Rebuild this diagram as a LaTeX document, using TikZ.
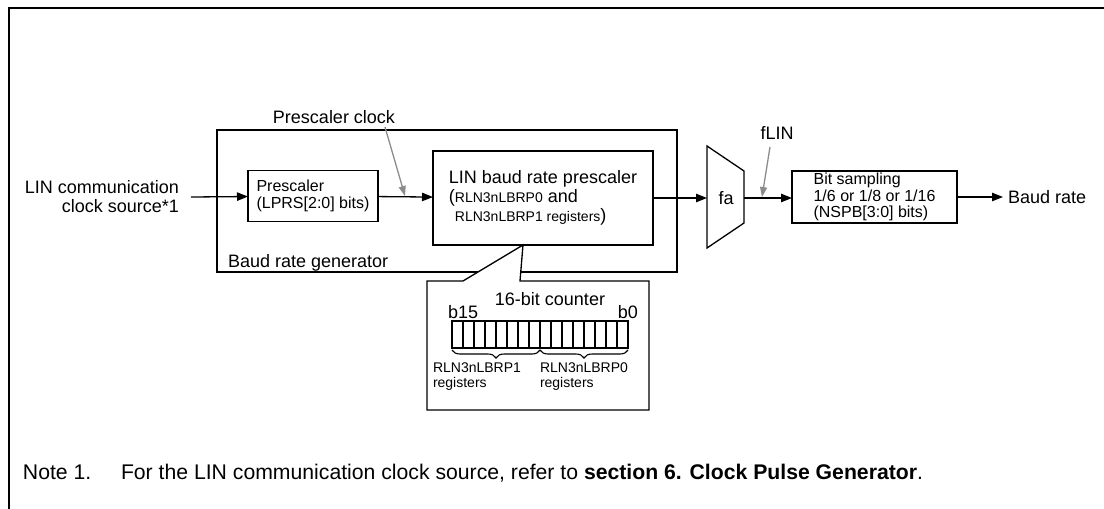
\documentclass[tikz,border=0pt]{standalone}
\usepackage{fontspec}
\setmainfont{Liberation Sans}
\usetikzlibrary{arrows.meta, positioning, decorations.pathreplacing}

\begin{document}
\begin{tikzpicture}[x=0.5pt, y=-0.5pt, line width=0.65pt,
    every node/.style={inner sep=0pt, outer sep=0pt},
    lbl/.style={font=\fontsize{9}{9.5}\selectfont},
    sml/.style={font=\fontsize{8}{8.25}\selectfont},
    tny/.style={font=\fontsize{7}{7.5}\selectfont},
    blk/.style={draw, align=left},
    sig/.style={-{Triangle[length=5.5pt, width=4.2pt]}},
    hint/.style={draw=black!45, -{Triangle[length=5pt, width=3.5pt]}}]
    \useasboundingbox (0,0) rectangle (1104,509);
    % outer frame
    \draw[line width=1.25pt] (9,509) -- (9,8) -- (1104,8);

    % baud rate generator
    \node[draw, minimum width=230pt, minimum height=71pt] (brg) at (447,201) {};
    \node[lbl, anchor=west] (brgl) at (228,263) {Baud rate generator};
    \node[blk, sml, minimum width=65pt, minimum height=25.5pt] (prs) at (313,196)
        {Prescaler\\(LPRS[2:0] bits)};
    \node[blk, lbl, minimum width=110pt, minimum height=47pt] (lbr) at (543,198)
        {LIN baud rate prescaler\\({\fontsize{7}{7.5}\selectfont RLN3nLBRP0} and\\\phantom{(}{\fontsize{7}{7.5}\selectfont RLN3nLBRP1 registers})};

    % callout with the counter
    \draw[fill=white] (427,281) -- (463,281) -- (523,245) -- (520,281) -- (649,281) -- (649,410) -- (427,410) -- cycle;
    \node[lbl] (cnt) at (550,299) {16-bit counter};
    \node[lbl, anchor=west] (b15) at (448,312) {b15};
    \node[lbl, anchor=east] (b0) at (638,312) {b0};
    \foreach \i in {0,...,15}
      \draw[line width=0.55pt] (452+11*\i,321) rectangle ++(11,27);
    \draw[line width=0.55pt, decorate, decoration={brace, mirror, amplitude=4pt}] (452,350) -- (540,350);
    \draw[line width=0.55pt, decorate, decoration={brace, mirror, amplitude=4pt}] (540,350) -- (628,350);
    \node[tny, anchor=west, align=left] (rp1) at (433,377) {RLN3nLBRP1\\registers};
    \node[tny, anchor=west, align=left] (rp0) at (540,377) {RLN3nLBRP0\\registers};

    % fa block
    \draw (707,146) -- (744,171) -- (744,223) -- (707,248) -- cycle;
    \node[lbl] (fa) at (726,198) {fa};
    \coordinate (fain) at (707,198);
    \coordinate (faout) at (744,198);

    \node[blk, sml, minimum width=82.5pt, minimum height=26pt] (bsm) at (874.5,197)
        {Bit sampling\\1/6 or 1/8 or 1/16\\(NSPB[3:0] bits)};

    % signals
    \node[lbl, anchor=east, align=right] (src) at (179,197) {LIN communication\\clock source*1};
    \coordinate (srcend) at (191,197);
    \draw[sig] (srcend) -- (prs);
    \draw[sig] (prs) -- (lbr);
    \draw[sig] (lbr.east |- fain) -- (fain);
    \draw[sig] (faout) -- (bsm.west |- faout);
    \node[lbl, anchor=west] (baud) at (1008,197) {Baud rate};
    \draw[sig] (bsm) -- (1003,197);

    \node[lbl] (pclk) at (334,117) {Prescaler clock};
    \coordinate (pclkend) at (405,196);
    \draw[hint] (385,127) -- (pclkend);
    \node[lbl] (flin) at (777,133) {fLIN};
    \coordinate (flinend) at (762,197);
    \draw[hint] (770,147) -- (flinend);

    % note
    \node[font=\fontsize{10.6}{12}\selectfont, anchor=base west] (note) at (23,479) {Note 1.};
    \node[font=\fontsize{10.6}{12}\selectfont, anchor=base west] (notetxt) at (121,479)
        {For the LIN communication clock source, refer to \textbf{section 6. Clock Pulse Generator}.};
\end{tikzpicture}
\end{document}
